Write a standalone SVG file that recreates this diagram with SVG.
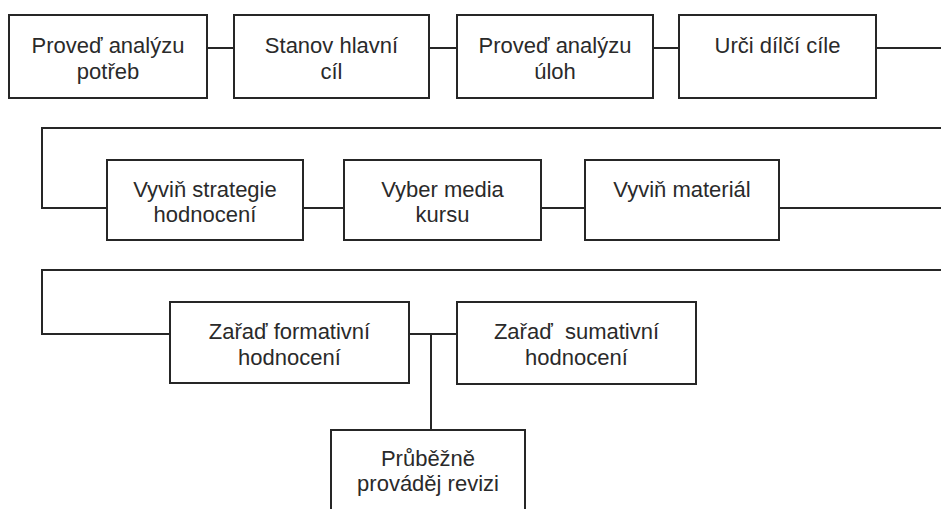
<svg xmlns="http://www.w3.org/2000/svg" width="941" height="509" viewBox="0 0 941 509">
  <style>
    .box { fill: #ffffff; stroke: #262626; stroke-width: 2; }
    .wire { fill: none; stroke: #262626; stroke-width: 2; }
    text { font-family: "Liberation Sans", Arial, sans-serif; font-size: 22px; fill: #2a2a2a; text-anchor: middle; white-space: pre; }
  </style>
  <rect width="941" height="509" fill="#ffffff"/>

  <!-- connectors -->
  <g id="connectors">
    <path class="wire" d="M207 48 H234"/>
    <path class="wire" d="M429 48 H457"/>
    <path class="wire" d="M653 48 H679"/>
    <path class="wire" d="M876 48 H941"/>
    <path class="wire" d="M941 128 H42 V208 H107"/>
    <path class="wire" d="M303 208 H344"/>
    <path class="wire" d="M541 208 H585"/>
    <path class="wire" d="M779 208 H941"/>
    <path class="wire" d="M941 270 H42 V334 H170"/>
    <path class="wire" d="M409 334 H457"/>
    <path class="wire" d="M431 334 V430"/>
  </g>

  <!-- row 1 -->
  <g id="n1">
    <rect class="box" x="9" y="15" width="198" height="83"/>
    <text x="108" y="53">Proveď analýzu</text>
    <text x="108" y="79">potřeb</text>
  </g>
  <g id="n2">
    <rect class="box" x="234" y="15" width="195" height="83"/>
    <text x="331.5" y="53">Stanov hlavní</text>
    <text x="331.5" y="79">cíl</text>
  </g>
  <g id="n3">
    <rect class="box" x="457" y="15" width="196" height="83"/>
    <text x="555" y="53">Proveď analýzu</text>
    <text x="555" y="79">úloh</text>
  </g>
  <g id="n4">
    <rect class="box" x="679" y="15" width="197" height="83"/>
    <text x="777.5" y="53">Urči dílčí cíle</text>
  </g>

  <!-- row 2 -->
  <g id="n5">
    <rect class="box" x="107" y="160" width="196" height="80"/>
    <text x="205" y="197">Vyviň strategie</text>
    <text x="205" y="222">hodnocení</text>
  </g>
  <g id="n6">
    <rect class="box" x="344" y="160" width="197" height="80"/>
    <text x="442.5" y="197">Vyber media</text>
    <text x="442.5" y="222">kursu</text>
  </g>
  <g id="n7">
    <rect class="box" x="585" y="160" width="194" height="80"/>
    <text x="682" y="197">Vyviň materiál</text>
  </g>

  <!-- row 3 -->
  <g id="n8">
    <rect class="box" x="170" y="302" width="239" height="81"/>
    <text x="289.5" y="339">Zařaď formativní</text>
    <text x="289.5" y="365">hodnocení</text>
  </g>
  <g id="n9">
    <rect class="box" x="457" y="302" width="239" height="82"/>
    <text x="576.5" y="339">Zařaď  sumativní</text>
    <text x="576.5" y="365">hodnocení</text>
  </g>
  <g id="n10">
    <rect class="box" x="331" y="430" width="194" height="100"/>
    <text x="428" y="466">Průběžně</text>
    <text x="428" y="491">prováděj revizi</text>
  </g>
</svg>
